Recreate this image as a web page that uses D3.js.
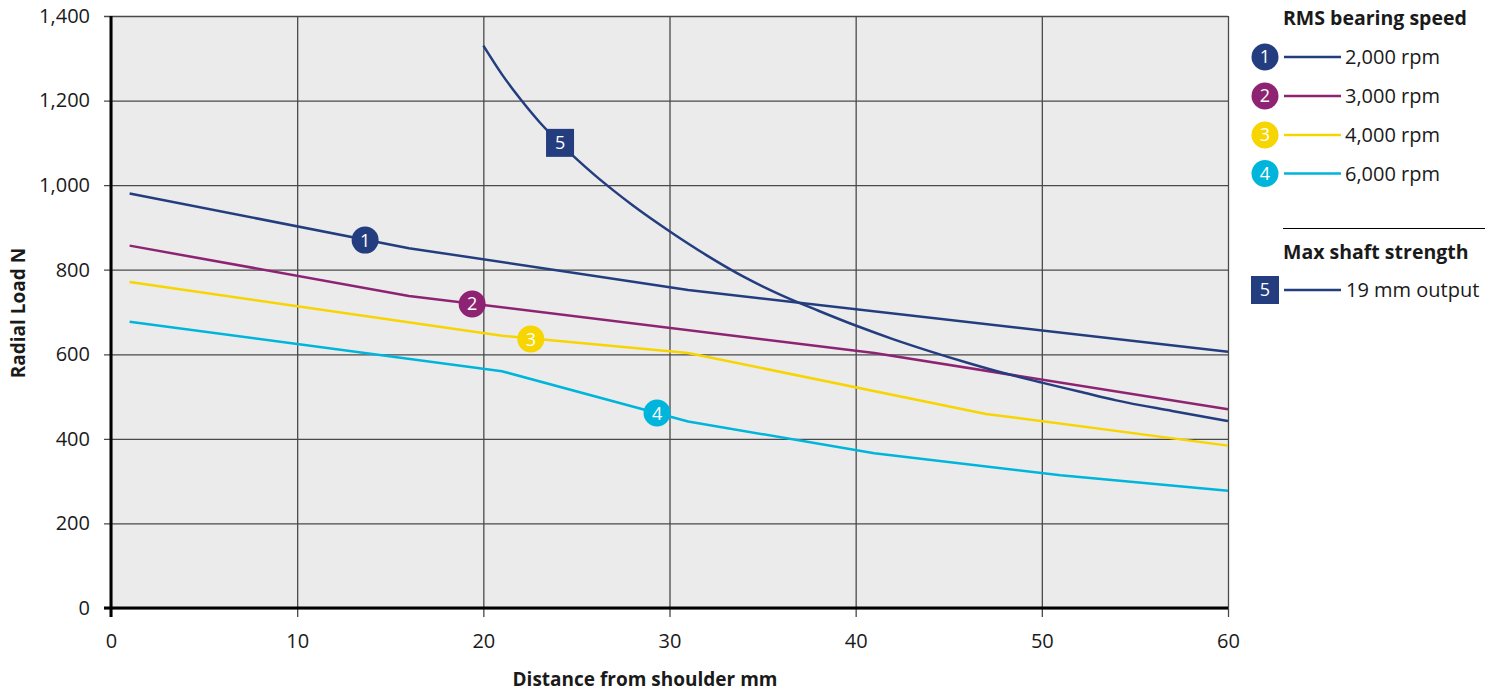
<!DOCTYPE html>
<html><head><meta charset="utf-8">
<script src="https://cdn.jsdelivr.net/npm/d3@7"></script>
<style>
body{margin:0;background:#fff;}
svg text{font-family:"Open Sans",sans-serif;fill:#1a1a1a;}
</style></head><body>
<svg id="c" width="1493" height="693"></svg>
<script>
// ---- data ----
const xTicks = [0, 10, 20, 30, 40, 50, 60];
const yTicks = [0, 200, 400, 600, 800, 1000, 1200, 1400];
const seriesNames = ["2,000 rpm", "3,000 rpm", "4,000 rpm", "6,000 rpm"];
const seriesColors = ["#233d7f", "#8e2373", "#f6d500", "#00b5dc"];
const s2000 = [[1, 980], [16, 851], [31, 752], [60, 606]];
const s3000 = [[1, 857], [16, 738], [41, 603], [60, 470]];
const s4000 = [[1, 771], [21, 644], [31, 603], [47, 459], [60, 384]];
const s6000 = [[1, 677], [21, 560], [31, 441], [41, 366], [51, 314], [60, 277]];
const shaftName = "19 mm output";
const shaftColor = "#233d7f";
const shaft19 = [[20, 1330], [21, 1262], [22, 1203], [23, 1150], [24, 1104], [25, 1062], [26, 1023], [27, 987], [28, 953], [30, 891], [32, 834], [34, 783], [36, 740], [38, 703], [40, 668], [42, 636], [44, 607], [46, 580], [48, 555], [50, 533], [52, 512], [54, 491], [57, 466], [60, 442]];
const markerPos = [[13.65, 870], [19.4, 719], [22.55, 636], [29.33, 461]];
const shaftMarker = [24.12, 1100];
const xTitle = "Distance from shoulder mm";
const yTitle = "Radial Load N";
const legendTitle1 = "RMS bearing speed";
const legendTitle2 = "Max shaft strength";

const series = [s2000, s3000, s4000, s6000];

const svg = d3.select("#c");
const x = d3.scaleLinear().domain([0, 60]).range([111, 1228]);
const y = d3.scaleLinear().domain([0, 1400]).range([608, 16]);

// plot background
svg.append("rect").attr("x", x(0)).attr("y", y(1400)).attr("width", x(60) - x(0)).attr("height", y(0) - y(1400)).attr("fill", "#ebebeb");

// horizontal grid + y ticks
const gy = svg.append("g").attr("transform", `translate(${x(0)},0)`)
  .call(d3.axisLeft(y).tickValues(yTicks).tickSize(-(x(60) - x(0))).tickPadding(21).tickFormat(d3.format(",")));
gy.select(".domain").remove();
gy.selectAll(".tick line").attr("x1", -7).attr("stroke", "#4a4a4a").attr("stroke-width", 1.3);
gy.selectAll(".tick text").attr("font-size", 20).attr("fill", "#1a1a1a").attr("font-family", "Open Sans");

// vertical grid + x ticks
const gx = svg.append("g").attr("transform", `translate(0,${y(0)})`)
  .call(d3.axisBottom(x).tickValues(xTicks).tickSize(-(y(0) - y(1400))).tickPadding(26));
gx.select(".domain").remove();
gx.selectAll(".tick line").attr("y1", 9).attr("stroke", "#4a4a4a").attr("stroke-width", 1.3);
gx.selectAll(".tick text").attr("font-size", 20).attr("fill", "#1a1a1a").attr("font-family", "Open Sans");

// main axes
svg.append("line").attr("x1", x(0)).attr("x2", x(0)).attr("y1", y(1400)).attr("y2", y(0) + 9).attr("stroke", "#000").attr("stroke-width", 3);
svg.append("line").attr("x1", x(0) - 7).attr("x2", x(60)).attr("y1", y(0)).attr("y2", y(0)).attr("stroke", "#000").attr("stroke-width", 3);

// lines
const line = d3.line().x(d => x(d[0])).y(d => y(d[1]));
series.forEach((s, i) => {
  svg.append("path").attr("d", line(s)).attr("fill", "none").attr("stroke", seriesColors[i]).attr("stroke-width", 2.5).attr("stroke-linejoin", "round");
});
const curve = d3.line().x(d => x(d[0])).y(d => y(d[1])).curve(d3.curveMonotoneX);
svg.append("path").attr("d", curve(shaft19)).attr("fill", "none").attr("stroke", shaftColor).attr("stroke-width", 2.5);

// markers on lines
markerPos.forEach((p, i) => {
  const g = svg.append("g").attr("transform", `translate(${x(p[0])},${y(p[1])})`);
  g.append("circle").attr("r", 13.5).attr("fill", seriesColors[i]);
  g.append("text").attr("text-anchor", "middle").attr("dy", "0.36em").attr("font-size", 18).style("fill", "#fff").text(i + 1);
});
{
  const g = svg.append("g").attr("transform", `translate(${x(shaftMarker[0])},${y(shaftMarker[1])})`);
  g.append("rect").attr("x", -14).attr("y", -14).attr("width", 28).attr("height", 28).attr("fill", shaftColor);
  g.append("text").attr("text-anchor", "middle").attr("dy", "0.36em").attr("font-size", 18).style("fill", "#fff").text(5);
}

// axis titles
svg.append("text").attr("x", 645).attr("y", 686).attr("text-anchor", "middle").attr("font-size", 19).attr("font-weight", "bold").text(xTitle);
svg.append("text").attr("transform", "translate(25,313) rotate(-90)").attr("text-anchor", "middle").attr("font-size", 19).attr("font-weight", "bold").text(yTitle);

// legend
svg.append("text").attr("x", 1283).attr("y", 25).attr("font-size", 19.5).attr("font-weight", "bold").text(legendTitle1);
const legY = [57, 96, 135, 173.5];
seriesNames.forEach((n, i) => {
  const g = svg.append("g").attr("transform", `translate(0,${legY[i]})`);
  g.append("circle").attr("cx", 1265).attr("r", 13.5).attr("fill", seriesColors[i]);
  g.append("text").attr("x", 1265).attr("text-anchor", "middle").attr("dy", "0.36em").attr("font-size", 18).style("fill", "#fff").text(i + 1);
  g.append("line").attr("x1", 1284).attr("x2", 1341).attr("stroke", seriesColors[i]).attr("stroke-width", 2.5);
  g.append("text").attr("x", 1345).attr("dy", "0.36em").attr("font-size", 20).text(n);
});
svg.append("line").attr("x1", 1283).attr("x2", 1485).attr("y1", 228.5).attr("y2", 228.5).attr("stroke", "#000").attr("stroke-width", 1);
svg.append("text").attr("x", 1283).attr("y", 259).attr("font-size", 19.5).attr("font-weight", "bold").text(legendTitle2);
{
  const g = svg.append("g").attr("transform", "translate(0,290)");
  g.append("rect").attr("x", 1251).attr("y", -14).attr("width", 28).attr("height", 28).attr("fill", shaftColor);
  g.append("text").attr("x", 1265).attr("text-anchor", "middle").attr("dy", "0.36em").attr("font-size", 18).style("fill", "#fff").text(5);
  g.append("line").attr("x1", 1284).attr("x2", 1341).attr("stroke", shaftColor).attr("stroke-width", 2.5);
  g.append("text").attr("x", 1346).attr("dy", "0.36em").attr("font-size", 20).text(shaftName);
}
</script></body></html>
